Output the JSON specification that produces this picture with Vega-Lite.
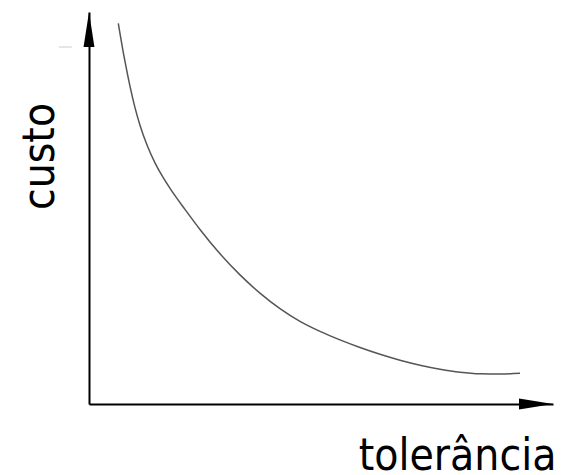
{
  "$schema": "https://vega.github.io/schema/vega-lite/v6.json",
  "width": 464,
  "height": 392,
  "autosize": "none",
  "padding": {"left": 89, "top": 12, "right": 9, "bottom": 71},
  "background": "white",
  "config": {"view": {"stroke": null}},
  "datasets": {
    "curve": [
      {"tol": 0.631, "custo": 9.712},
      {"tol": 0.761, "custo": 8.827},
      {"tol": 0.884, "custo": 8.102},
      {"tol": 0.991, "custo": 7.561},
      {"tol": 1.099, "custo": 7.110},
      {"tol": 1.261, "custo": 6.574},
      {"tol": 1.422, "custo": 6.153},
      {"tol": 1.584, "custo": 5.804},
      {"tol": 1.746, "custo": 5.500},
      {"tol": 2.069, "custo": 4.964},
      {"tol": 2.392, "custo": 4.452},
      {"tol": 2.823, "custo": 3.832},
      {"tol": 3.254, "custo": 3.294},
      {"tol": 3.685, "custo": 2.829},
      {"tol": 4.116, "custo": 2.431},
      {"tol": 4.547, "custo": 2.107},
      {"tol": 4.978, "custo": 1.852},
      {"tol": 5.409, "custo": 1.635},
      {"tol": 5.841, "custo": 1.441},
      {"tol": 6.272, "custo": 1.268},
      {"tol": 6.703, "custo": 1.117},
      {"tol": 7.134, "custo": 0.990},
      {"tol": 7.565, "custo": 0.888},
      {"tol": 7.996, "custo": 0.811},
      {"tol": 8.427, "custo": 0.770},
      {"tol": 8.858, "custo": 0.763},
      {"tol": 9.289, "custo": 0.783}
    ],
    "arrows": [
      {"tol": 0, "custo": 9.554, "dir": "up"},
      {"tol": 9.634, "custo": 0, "dir": "right"}
    ],
    "stray": [
      {"tol": -0.65, "custo": 9.107, "tol2": -0.37}
    ]
  },
  "layer": [
    {
      "data": {"name": "curve"},
      "mark": {"type": "line", "interpolate": "monotone", "color": "#555555", "strokeWidth": 1.5},
      "encoding": {
        "x": {
          "field": "tol", "type": "quantitative",
          "scale": {"domain": [0, 10], "nice": false, "zero": false},
          "axis": {
            "title": "tolerância", "domainColor": "black", "domainWidth": 2,
            "ticks": false, "labels": false, "grid": false,
            "titleFont": "DejaVu Sans Condensed", "titleFontSize": 44, "titleFontWeight": "normal",
            "titleColor": "black", "titleAlign": "right", "titleBaseline": "alphabetic",
            "titleAnchor": null, "titleX": 467, "titleY": 65
          }
        },
        "y": {
          "field": "custo", "type": "quantitative",
          "scale": {"domain": [0, 10], "nice": false, "zero": false},
          "axis": {
            "title": "custo", "domainColor": "black", "domainWidth": 2,
            "ticks": false, "labels": false, "grid": false,
            "titleFont": "DejaVu Sans Condensed", "titleFontSize": 44, "titleFontWeight": "normal",
            "titleColor": "black", "titleAlign": "center", "titleBaseline": "alphabetic",
            "titleAngle": -90, "titleAnchor": null, "titleX": -36, "titleY": 144
          }
        }
      }
    },
    {
      "data": {"name": "arrows"},
      "transform": [{"filter": "datum.dir === 'up'"}],
      "mark": {"type": "point", "shape": "M0,-1L0.31,1L-0.31,1Z", "size": 1225, "filled": true, "color": "black", "opacity": 1, "clip": false},
      "encoding": {
        "x": {"field": "tol", "type": "quantitative"},
        "y": {"field": "custo", "type": "quantitative"}
      }
    },
    {
      "data": {"name": "arrows"},
      "transform": [{"filter": "datum.dir === 'right'"}],
      "mark": {"type": "point", "shape": "M1,0L-1,-0.33L-1,0.33Z", "size": 1156, "filled": true, "color": "black", "opacity": 1, "clip": false},
      "encoding": {
        "x": {"field": "tol", "type": "quantitative"},
        "y": {"field": "custo", "type": "quantitative"}
      }
    },
    {
      "data": {"name": "stray"},
      "mark": {"type": "rule", "color": "#cccccc", "strokeWidth": 1, "clip": false},
      "encoding": {
        "x": {"field": "tol", "type": "quantitative"},
        "x2": {"field": "tol2"},
        "y": {"field": "custo", "type": "quantitative"}
      }
    }
  ]
}
